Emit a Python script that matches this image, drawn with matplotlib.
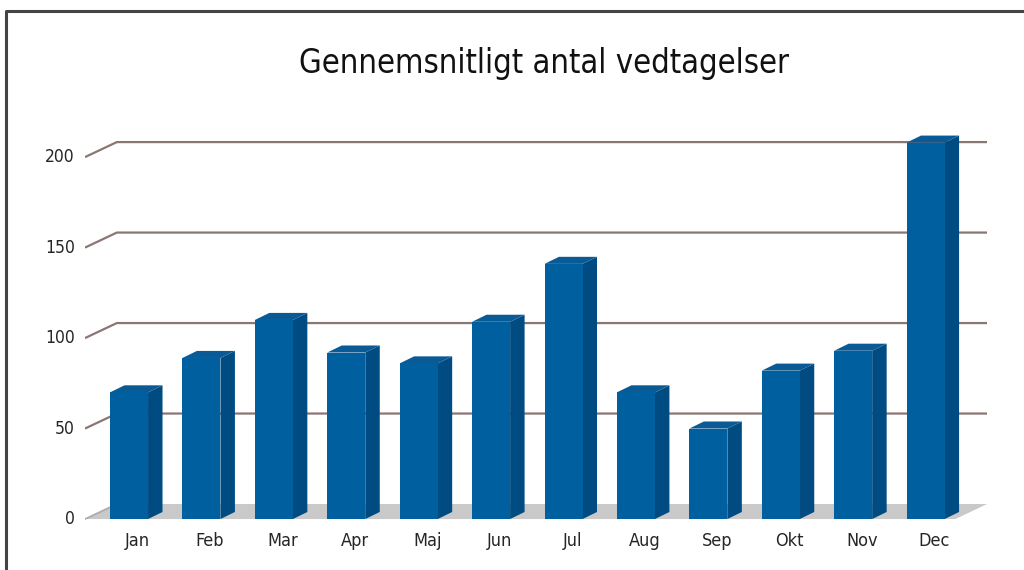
import matplotlib
matplotlib.use("Agg")
import matplotlib.pyplot as plt
from matplotlib.patches import Polygon
from matplotlib.lines import Line2D
import numpy as np

months = ["Jan", "Feb", "Mar", "Apr", "Maj", "Jun", "Jul", "Aug", "Sep", "Okt", "Nov", "Dec"]
values = [70, 89, 110, 92, 86, 109, 141, 70, 50, 82, 93, 208]
yticks = [0, 50, 100, 150, 200]
title = "Gennemsnitligt antal vedtagelser"

front_col = "#00609f"
side_col = "#004c82"
top_col = "#0a5a96"
grid_col = "#8a7673"
floor_col = "#c9c9c9"

# pseudo 3d offsets (data units)
wall_dx, wall_dy = 0.44, 8.3
bar_w = 0.525
bar_dx, bar_dy = 0.2, 3.9

fig = plt.figure(figsize=(10.24, 5.70), dpi=100)
ax = fig.add_axes([0.083, 0.064, 0.881, 0.708])
x = np.arange(len(months))
x0, x1 = -0.608, 11.85
ax.set_xlim(x0, x1)
ax.set_ylim(-8, 215)
ax.axis("off")

# back wall grid lines with left wall diagonal
for v in yticks[1:]:
    ax.plot([x0, x0 + wall_dx, x1], [v, v + wall_dy, v + wall_dy], color=grid_col, lw=1.6, zorder=1,
            solid_capstyle="butt")

# floor
xr = x1 - wall_dx
ax.add_patch(Polygon([(x0, 0), (xr, 0), (x1, wall_dy), (x0 + wall_dx, wall_dy)],
                     closed=True, facecolor=floor_col, edgecolor="none", zorder=2))
ax.plot([x0, x0 + wall_dx], [0, wall_dy], color="#b0a8a6", lw=1.2, zorder=2)

# bars: front face, side and top
ax.bar(x, values, width=bar_w, color=front_col, edgecolor="none", zorder=4)
for xi, v in zip(x, values):
    l, r = xi - bar_w / 2, xi + bar_w / 2
    ax.add_patch(Polygon([(r, 0), (r + bar_dx, bar_dy), (r + bar_dx, v + bar_dy), (r, v)],
                         closed=True, facecolor=side_col, edgecolor="none", zorder=3))
    ax.add_patch(Polygon([(l, v), (r, v), (r + bar_dx, v + bar_dy), (l + bar_dx, v + bar_dy)],
                         closed=True, facecolor=top_col, edgecolor="none", zorder=3))

# tick labels
for v in yticks:
    ax.text(x0 - 0.14, v, str(v), ha="right", va="center", fontsize=12.5,
            fontstretch="condensed", color="#262626")
for xi, m in zip(x, months):
    ax.text(xi + bar_dx / 2 + 0.02, -12, m, ha="center", va="center", fontsize=13,
            fontstretch="condensed", color="#262626")

fig.text(544 / 1024, 1 - 63 / 570, title, ha="center", va="center", fontsize=23.5,
         fontstretch="condensed", color="#111111")

# frame around the picture
fig.add_artist(Line2D([6 / 1024, 6 / 1024, 1], [0, 1 - 11 / 570, 1 - 11 / 570],
                      transform=fig.transFigure, color="#444444", lw=2.2))

fig.savefig("out.png", dpi=100)
